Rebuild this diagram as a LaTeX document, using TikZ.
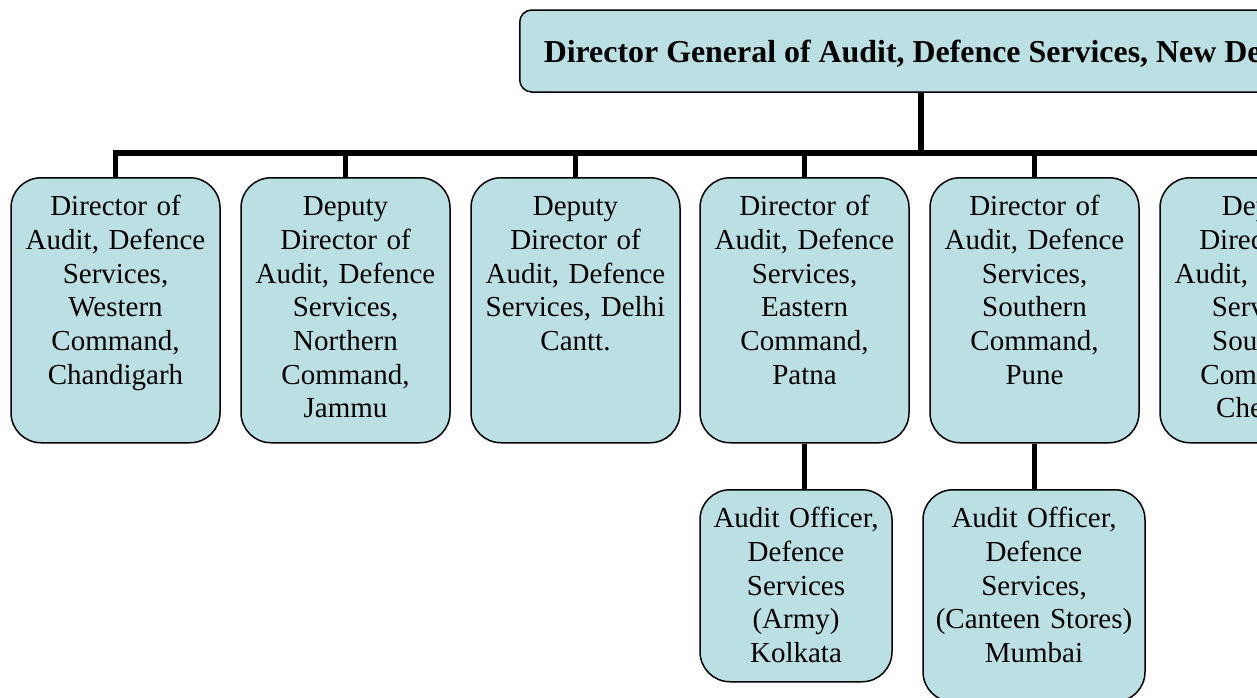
\documentclass[tikz,border=0pt]{standalone}
\usepackage{fontspec}
\setmainfont{Liberation Serif}
\definecolor{boxfill}{RGB}{187,224,228}
\begin{document}
\begin{tikzpicture}[x=0.5pt,y=-0.5pt,
		unit/.style={draw=black,line width=0.75pt,fill=boxfill,rounded corners=15pt,anchor=north,
			inner xsep=2pt,inner ysep=4pt,text width=100.5pt,align=center,
			text height=15pt,text depth=109.5pt,font=\fontsize{14.5}{16.85}\selectfont},
		office/.style={unit,text width=92pt,text depth=73pt},
		link/.style={line width=2.75pt}]
	\clip (0,0) rectangle (1257,697);
	\useasboundingbox (0,0) rectangle (1257,697);
	\node[draw=black,line width=0.75pt,fill=boxfill,rounded corners=6pt,anchor=west,inner xsep=12pt,
		minimum height=41pt,text depth=0pt,font=\fontsize{15.95}{18}\selectfont\bfseries] (dg) at (519,51)
		{Director General of Audit, Defence Services, New Delhi};
	\node[unit] (western) at (115.5,177) {Director of\\Audit, Defence\\Services,\\Western\\Command,\\Chandigarh};
	\node[unit] (northern) at (345.5,177) {Deputy\\Director of\\Audit, Defence\\Services,\\Northern\\Command,\\Jammu};
	\node[unit] (delhi) at (575.5,177) {Deputy\\Director of\\Audit, Defence\\Services, Delhi\\Cantt.};
	\node[unit] (eastern) at (804.5,177) {Director of\\Audit, Defence\\Services,\\Eastern\\Command,\\Patna};
	\node[unit] (southern) at (1034.5,177) {Director of\\Audit, Defence\\Services,\\Southern\\Command,\\Pune};
	\node[unit] (chennai) at (1264.5,177) {Deputy\\Director of\\Audit, Defence\\Services,\\Southern\\Command,\\Chennai};
	\node[office] (kolkata) at (796,489) {Audit Officer,\\Defence\\Services\\(Army)\\Kolkata};
	\node[office,text width=107pt,text depth=83pt] (mumbai) at (1034,489) {Audit Officer,\\Defence\\Services,\\(Canteen Stores)\\Mumbai};
	\coordinate (hub) at (921,153);
	\draw[link] (dg.south -| hub) -- (hub);
	\draw[link,line cap=rect] (western.north |- hub) -- (chennai.north |- hub);
	\foreach \n in {western,northern,delhi,eastern,southern,chennai}
		\draw[link] (\n.north |- hub) -- (\n.north);
	\draw[link] (eastern.south) -- (eastern.south |- kolkata.north);
	\draw[link] (southern.south) -- (southern.south |- mumbai.north);
\end{tikzpicture}
\end{document}
